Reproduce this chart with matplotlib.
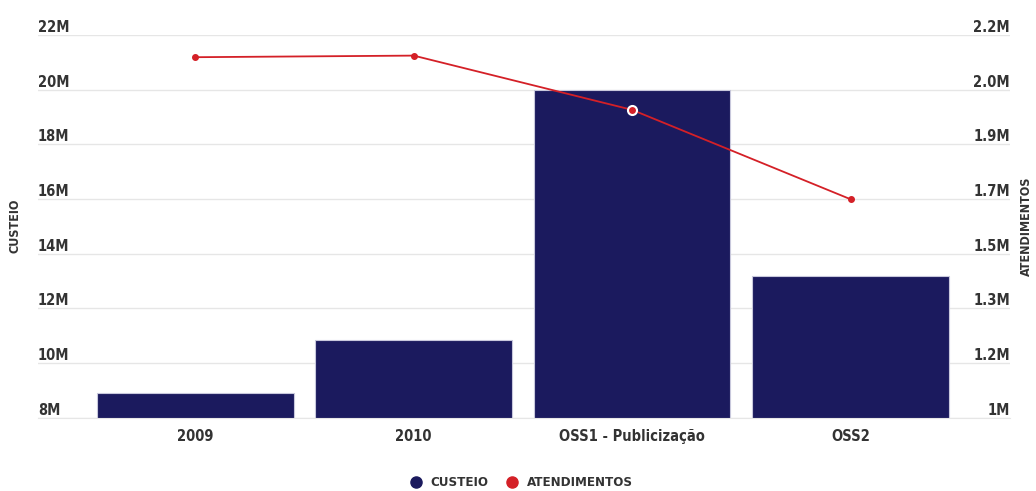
import matplotlib.pyplot as plt
from matplotlib.lines import Line2D
import numpy as np

categories = ["2009", "2010", "OSS1 - Publicização", "OSS2"]
custeio = [8.9e6, 10.85e6, 20.0e6, 13.2e6]
atendimentos = [2.13e6, 2.135e6, 1.965e6, 1.685e6]

left_ticks = [8e6, 10e6, 12e6, 14e6, 16e6, 18e6, 20e6, 22e6]
left_labels = ["8M", "10M", "12M", "14M", "16M", "18M", "20M", "22M"]
right_labels = ["1M", "1.2M", "1.3M", "1.5M", "1.7M", "1.9M", "2.0M", "2.2M"]

bar_color = "#1b1a5e"
line_color = "#d42027"
font = dict(family="DejaVu Sans", stretch="condensed", weight="bold", color="#333333")

fig = plt.figure(figsize=(10.36, 4.91), dpi=100)
# axes spans the gridline width; labels sit on top of the gridlines
ax = fig.add_axes([38 / 1036, 0.149, (1010 - 38) / 1036, 0.78])
x = np.arange(len(categories))

ax.bar(x, custeio, width=0.9, color=bar_color, edgecolor="#c8c8dc", linewidth=0.8, zorder=2)
ax.set_ylim(8e6, 22e6)
ax.set_xlim(-0.72, 3.73)
ax.set_yticks(left_ticks)
ax.set_yticklabels(left_labels, fontsize=10.5, **font)
ax.set_xticks(x)
ax.set_xticklabels(categories, fontsize=10.5, **font)
ax.grid(axis="y", color="#e6e6e6", linewidth=1, zorder=0)
ax.tick_params(axis="x", length=0, pad=8)
ax.tick_params(axis="y", length=0, pad=0)
for s in ax.spines.values():
    s.set_visible(False)
ax.spines["bottom"].set_visible(True)
ax.spines["bottom"].set_color("#e6e6e6")
for lbl in ax.get_yticklabels():
    lbl.set_verticalalignment("bottom")
    lbl.set_horizontalalignment("left")

ax2 = ax.twinx()
ax2.plot(x, atendimentos, color=line_color, linewidth=1.3, marker="o", markersize=4, zorder=3)
ax2.plot(x[2], atendimentos[2], "o", color=line_color, markersize=6.5, markeredgecolor="white",
         markeredgewidth=1.5, zorder=4)
ax2.set_ylim(1e6, 2.2e6)
ax2.set_yticks(np.linspace(1e6, 2.2e6, len(right_labels)))
ax2.set_yticklabels(right_labels, fontsize=10.5, **font)
for lbl in ax2.get_yticklabels():
    lbl.set_verticalalignment("bottom")
    lbl.set_horizontalalignment("right")
ax2.tick_params(length=0, axis="y", pad=0)
for s in ax2.spines.values():
    s.set_visible(False)

fig.text(15 / 1036, 1 - 226 / 491, "CUSTEIO", rotation=90, ha="center", va="center",
         fontsize=9, **font)
fig.text(1026 / 1036, 1 - 226 / 491, "ATENDIMENTOS", rotation=90, ha="center", va="center",
         fontsize=9, **font)

handles = [
    Line2D([], [], marker="o", linestyle="", color=bar_color, markersize=8),
    Line2D([], [], marker="o", linestyle="", color=line_color, markersize=8),
]
leg = fig.legend(handles, ["CUSTEIO", "ATENDIMENTOS"], loc="center", ncol=2,
                 bbox_to_anchor=(0.5, 1 - 483 / 491), frameon=False, handletextpad=0.1,
                 columnspacing=0.8, prop=dict(family="DejaVu Sans", stretch="condensed",
                                              weight="bold", size=9.5))
for t in leg.get_texts():
    t.set_color("#333333")

fig.savefig("out.png", dpi=100)
